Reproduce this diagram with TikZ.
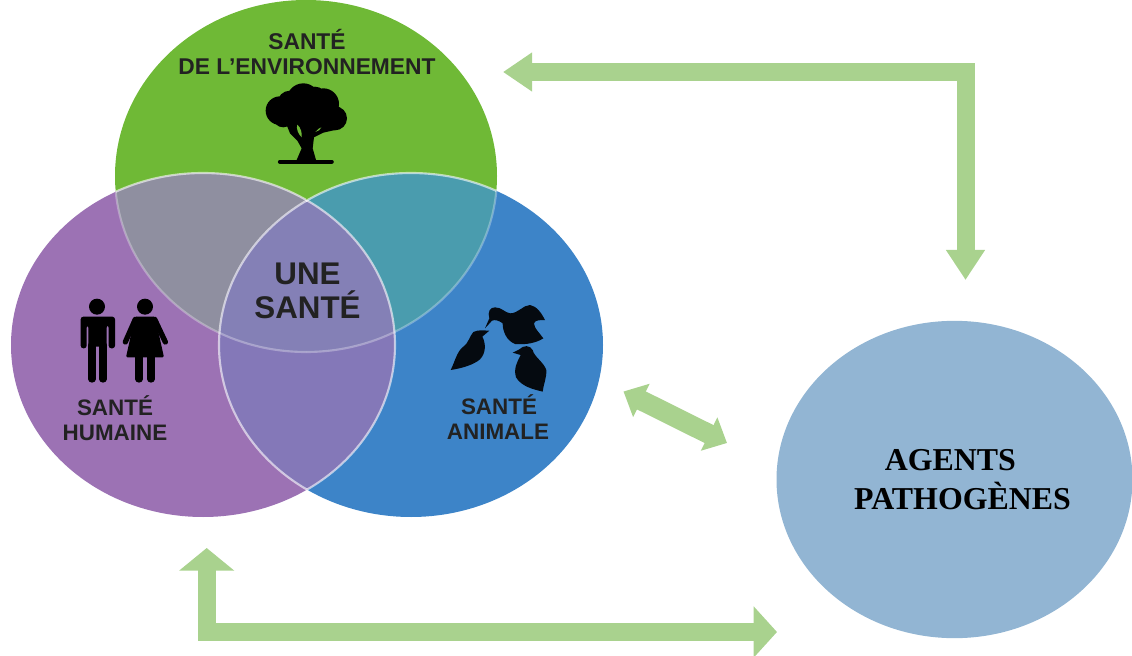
\documentclass[tikz,border=0pt]{standalone}
\usepackage{fontspec}
\setmainfont{Liberation Sans}
\newfontfamily\timesbold{Liberation Serif}[BoldFont={Liberation Serif Bold}]
\usetikzlibrary{arrows.meta,shapes.geometric}
\definecolor{cgreen}{HTML}{6FB936}
\definecolor{cpurple}{HTML}{9C72B4}
\definecolor{cblue}{HTML}{3D84C8}
\definecolor{cgp}{HTML}{8F8FA0}
\definecolor{cgb}{HTML}{4A9CAE}
\definecolor{cpb}{HTML}{8478B8}
\definecolor{call}{HTML}{8480B6}
\definecolor{cagent}{HTML}{92B5D3}
\definecolor{carrow}{HTML}{A9D28E}
\definecolor{ctext}{HTML}{222222}
\newcommand{\envpath}{(306,176) ellipse [x radius=191,y radius=176]}
\newcommand{\humpath}{(203,345) ellipse [x radius=192,y radius=172]}
\newcommand{\anipath}{(411,345) ellipse [x radius=192,y radius=172]}
\tikzset{
  flow/.style={draw=carrow,line width=13.5pt,line join=miter},
  seam/.style={draw=white,draw opacity=.6,line width=1.6pt},
  faintseam/.style={draw=white,draw opacity=.3,line width=1.6pt},
  smalllabel/.style={font=\bfseries\fontsize{16.8pt}{16.8pt}\selectfont,text=ctext,anchor=base,inner sep=0pt},
  biglabel/.style={font=\bfseries\fontsize{17.1pt}{17.1pt}\selectfont,text=ctext,anchor=base,inner sep=0pt},
  onelabel/.style={font=\bfseries\fontsize{23.5pt}{23.5pt}\selectfont,text=ctext,anchor=base,inner sep=0pt},
  agentnode/.style={ellipse,fill=cagent,minimum width=267pt,minimum height=238pt,inner sep=0pt,align=left,text=black,
    font=\timesbold\bfseries\fontsize{23.9pt}{29pt}\selectfont}
}
\begin{document}
\begin{tikzpicture}[x=0.75pt,y=-0.75pt]
\useasboundingbox (0,0) rectangle (1132,656);
% circles
\fill[cgreen] \envpath;
\fill[cblue] \anipath;
\fill[cpurple] \humpath;
\begin{scope}\clip \envpath; \fill[cgb] \anipath; \end{scope}
\begin{scope}\clip \envpath; \fill[cgp] \humpath; \end{scope}
\begin{scope}\clip \humpath; \fill[cpb] \anipath; \end{scope}
\begin{scope}\clip \envpath; \clip \humpath; \fill[call] \anipath; \end{scope}
% seams
\begin{scope}\clip \anipath; \draw[seam] \humpath; \end{scope}
\begin{scope}\clip (0,0) rectangle (306,360); \clip \envpath; \draw[seam] \humpath; \end{scope}
\begin{scope}\clip \humpath; \draw[seam] \anipath; \end{scope}
\begin{scope}\clip (306,0) rectangle (620,360); \clip \envpath; \draw[seam] \anipath; \end{scope}
\begin{scope}\clip (0,0) rectangle (306,360); \clip \humpath; \draw[faintseam] \envpath; \end{scope}
\begin{scope}\clip (306,0) rectangle (620,360); \clip \anipath; \draw[faintseam] \envpath; \end{scope}
% labels
\node[biglabel] (envA) at (307,50) {SANTÉ};
\node[biglabel] (envB) at (307,75) {DE L’ENVIRONNEMENT};
\node[onelabel] (oneA) at (307.5,284) {UNE};
\node[onelabel] (oneB) at (307.5,318) {SANTÉ};
\node[smalllabel] (humA) at (115,415) {SANTÉ};
\node[smalllabel] (humB) at (115,440) {HUMAINE};
\node[smalllabel] (aniA) at (499,414.5) {SANTÉ};
\node[smalllabel] (aniB) at (498,439.5) {ANIMALE};
\node[agentnode] (agents) at (954.5,479.5) {\hspace*{35pt}AGENTS\\\hspace*{12pt}PATHOGÈNES};
% connector ends
\coordinate (envEnd) at (503,72);
\coordinate (topCorner) at (965.5,72);
\coordinate (agTop) at (965.5,280);
\coordinate (aniEnd) at (623.5,391.5);
\coordinate (agLeft) at (727,443);
\coordinate (humEnd) at (206.7,548);
\coordinate (botCorner) at (206.7,632);
\coordinate (agBot) at (777,632);
\draw[flow,{Triangle[length=21.75pt,width=27.75pt]}-{Triangle[length=22.5pt,width=27.75pt]}] (envEnd) -- (topCorner) -- (agTop);
\draw[flow,line width=15pt,{Triangle[length=15pt,width=27pt]}-{Triangle[length=15pt,width=27pt]}] (aniEnd) -- (agLeft);
\draw[flow,{Triangle[length=17pt,width=40.5pt]}-{Triangle[length=17.5pt,width=37.5pt]}] (humEnd) -- (botCorner) -- (agBot);
% people icons
\begin{scope}[shift={(60,280)},x=0.25pt,y=-0.25pt]
\fill[black] (111,80) circle [radius=24];
\fill[black,rounded corners=2pt] (62,205) -- (62,110) -- (165,110) -- (165,205) -- (146,205) -- (146,135) -- (140,135) -- (140,200) -- (85,200) -- (85,135) -- (80,135) -- (80,205) -- cycle;
\draw[black,line width=5.5pt,line cap=round] (96,195) -- (96,297) (129,195) -- (129,297);
\fill[black] (255,80) circle [radius=24];
\fill[black,rounded corners=1pt] (225,110) -- (285,110) -- (312,232) -- (198,232) -- cycle;
\draw[black,line width=4pt,line cap=round] (226,118) -- (196,186) (284,118) -- (316,186);
\draw[black,line width=5.5pt,line cap=round] (237,228) -- (237,297) (273,228) -- (273,297);
\end{scope}
% birds
\begin{scope}[shift={(430,290)},x=0.25pt,y=-0.25pt]
\fill[black!92!cblue] (165,115) -- (178,85) .. controls (172,65) and (180,52) .. (195,52) .. controls (215,52) and (225,68) .. (240,70) .. controls (265,70) and (280,45) .. (300,45) .. controls (320,48) and (335,70) .. (345,90) .. controls (330,90) and (315,90) .. (312,100) .. controls (312,115) and (330,130) .. (340,145) .. controls (320,158) and (290,165) .. (255,162) .. controls (230,152) and (218,125) .. (218,100) .. controls (208,92) and (195,88) .. (186,92) -- cycle;
\fill[black!92!cblue] (62,240) .. controls (75,215) and (80,185) .. (100,170) .. controls (115,160) and (118,140) .. (130,126) .. controls (145,118) and (165,122) .. (178,122) -- (157,140) .. controls (168,160) and (168,190) .. (150,208) .. controls (130,225) and (95,235) .. (62,240) -- cycle;
\fill[black!92!cblue] (248,188) -- (268,178) .. controls (280,165) and (300,165) .. (308,180) .. controls (312,200) and (340,215) .. (349,240) .. controls (350,265) and (340,285) .. (338,305) .. controls (310,298) and (275,290) .. (258,262) .. controls (250,235) and (262,215) .. (272,195) -- cycle;
\end{scope}
% tree
\begin{scope}[shift={(240,20)},x=0.25pt,y=-0.25pt]
\fill[black] (120,272) circle [radius=43] (190,240) circle [radius=50] (250,252) circle [radius=47] (285,295) circle [radius=36] (200,275) circle [radius=60] (130,290) circle [radius=32] (150,250) circle [radius=38] (225,235) circle [radius=35];
\fill[black] (110,290) -- (290,290) -- (285,330) -- (250,338) -- (222,352) -- (218,385) -- (228,420) -- (170,420) -- (185,385) -- (172,362) -- (150,340) -- (140,315) -- cycle;
\fill[cgreen] (172,314) .. controls (168,325) and (174,342) .. (185,352) .. controls (187,340) and (182,322) .. (172,314) -- cycle;
\fill[cgreen] (226,336) .. controls (232,328) and (238,324) .. (244,322) .. controls (242,329) and (235,333) .. (226,336) -- cycle;
\draw[black,line width=3.2pt,line cap=round] (120,425) -- (275,425);
\end{scope}
\end{tikzpicture}
\end{document}
